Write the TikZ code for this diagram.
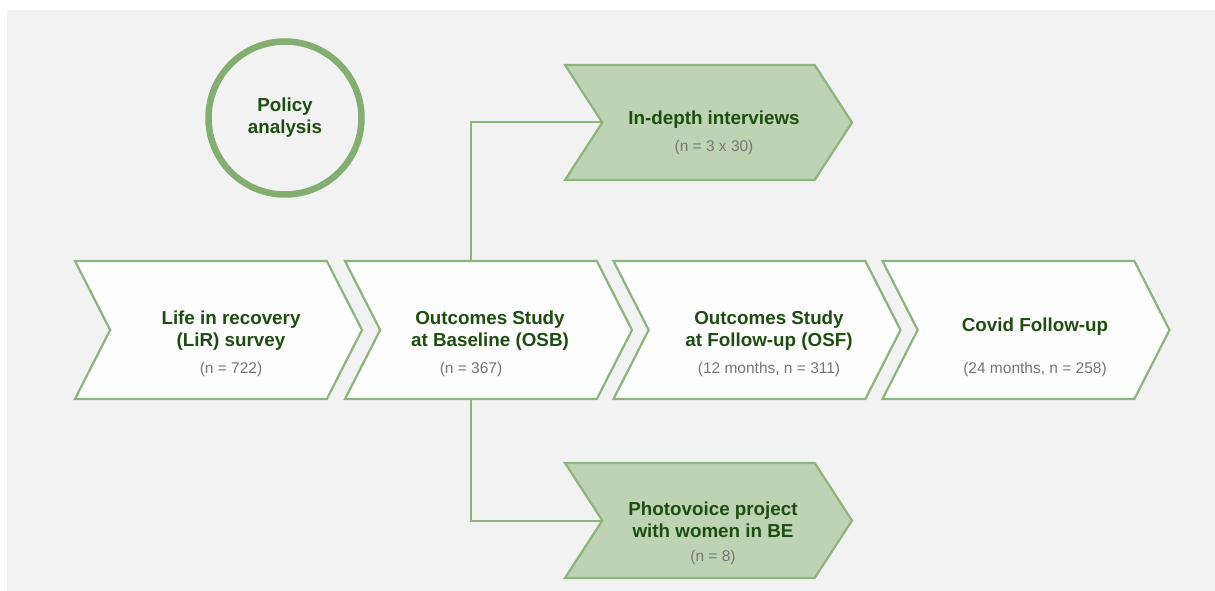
\documentclass[tikz,border=0pt]{standalone}
\usepackage{fontspec}
\setmainfont{Liberation Sans}
\usepackage{xcolor}
\usetikzlibrary{shapes.symbols,positioning}
\definecolor{bggrey}{HTML}{F2F2F2}
\definecolor{edgegreen}{HTML}{8DB47C}
\definecolor{ringgreen}{HTML}{84AD72}
\definecolor{fillgreen}{HTML}{BDD3B3}
\definecolor{titlegreen}{HTML}{1E4D12}
\definecolor{countgrey}{HTML}{767676}
\newcommand{\ttl}[1]{{\bfseries\color{titlegreen}#1}}
\newcommand{\cnt}[1]{{\fontsize{15.5}{18}\selectfont\color{countgrey}#1}}

\begin{document}
\begin{tikzpicture}[x=1pt, y=-1pt,
        chev/.style = {shape=signal, signal to=east, signal from=west, draw=edgegreen,
            line width=2.2pt, fill=white!85!bggrey, minimum width=287pt,
            minimum height=138pt, signal pointer angle=126, inner sep=0pt},
        branch/.style = {chev, fill=fillgreen, minimum height=115pt, signal pointer angle=114},
        txt/.style = {align=center, font=\fontsize{18.8}{22}\selectfont},
        link/.style = {draw=edgegreen, line width=2pt}]
                %\draw[help lines] (0,0) grid[step=50] (1215,591);
                \fill[white] (0,0) rectangle (1215,591);
                \fill[bggrey] (7,10) rectangle (1215,591);

                \node[circle, draw=ringgreen, line width=6.5pt, minimum size=153pt] (policy) at (285,118) {};
                \node[txt] (policytxt) at (285,118) {\ttl{Policy}\\\ttl{analysis}};

                % main line
                \node[chev] (lir) at (218.5,330) {};
                \node[chev] (osb) at (488.5,330) {};
                \node[chev] (osf) at (757,330) {};
                \node[chev] (covid) at (1026,330) {};

                % branches
                \node[branch] (idi) at (708.5,122.5) {};
                \node[branch] (photo) at (708.5,520.5) {};

                \draw[link] ([xshift=-18pt]osb.north) |- (idi.west);
                \draw[link] ([xshift=-18pt]osb.south) |- (photo.west);

                \node[txt] (lirtxt) at (231,344) {\ttl{Life in recovery}\\\ttl{(LiR) survey}\\[5pt]\cnt{(n = 722)}};
                \node[txt] (osbtxt) at (490,344) {\ttl{Outcomes Study}\\\ttl{at Baseline (OSB)}\\[5pt]\cnt{(n = 367)\hspace*{38pt}}};
                \node[txt] (osftxt) at (769,344) {\ttl{Outcomes Study}\\\ttl{at Follow-up (OSF)}\\[5pt]\cnt{(12 months, n = 311)}};
                \node[txt] (covidtxt) at (1035,347) {\ttl{Covid Follow-up}\\[20pt]\cnt{(24 months, n = 258)}};
                \node[txt] (iditxt) at (714,133) {\ttl{In-depth interviews}\\[5pt]\cnt{(n = 3 x 30)}};
                \node[txt] (phototxt) at (713,533) {\ttl{Photovoice project}\\\ttl{with women in BE}\\[2pt]\cnt{(n = 8)}};
\end{tikzpicture}
\end{document}
